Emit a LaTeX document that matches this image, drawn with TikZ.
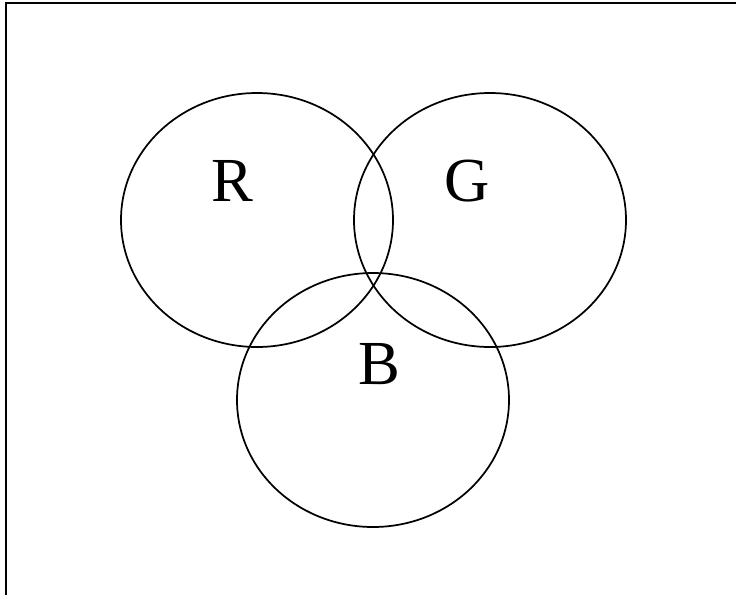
\documentclass[tikz,border=0pt]{standalone}
\usepackage{fontspec}
\setmainfont{Liberation Serif}
\usetikzlibrary{shapes.geometric}

\begin{document}
\begin{tikzpicture}[
  x=0.75pt, y=-0.75pt,
  circ/.style={draw, ellipse, line width=1.3pt, inner sep=0pt,
               minimum width=204pt, minimum height=190.5pt},
  letter/.style={inner sep=0pt, font=\fontsize{47}{56}\selectfont}
]
\useasboundingbox (0,0) rectangle (736,594);
% frame
\coordinate (tl) at (6,3);
\coordinate (tr) at (740,3);
\coordinate (bl) at (6,600);
\draw[line width=2pt] (bl) -- (tl) -- (tr);

% circles
\node[circ] (r) at (257,220) {};
\node[circ] (g) at (490,220) {};
\node[circ] (b) at (373,400) {};

% labels
\node[letter] (rl) at (232,181) {R};
\node[letter] (gl) at (467,181) {G};
\node[letter] (bl2) at (379,364) {B};
\end{tikzpicture}
\end{document}
